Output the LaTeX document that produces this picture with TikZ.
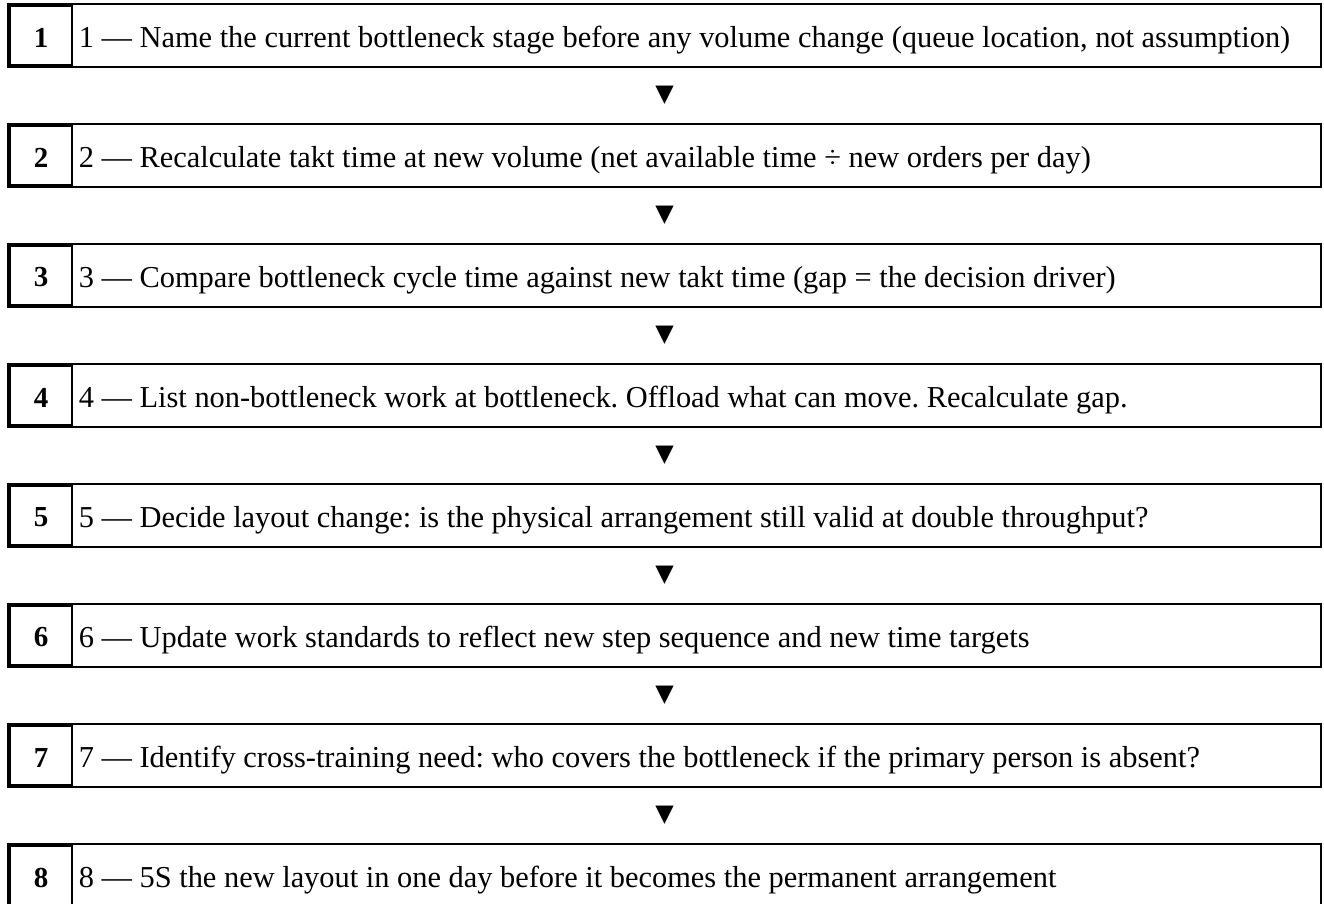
\documentclass[tikz,border=0pt]{standalone}
\usepackage{fontspec}
\setmainfont{Liberation Serif}
\newfontfamily\symfont{DejaVu Sans}
\usetikzlibrary{positioning,calc}
\frenchspacing

\begin{document}
\begin{tikzpicture}[
  x=1pt, y=-1pt,
  stepbox/.style={draw, line width=1.6pt, minimum width=1313pt, minimum height=63pt, inner sep=0pt},
  numbox/.style={draw, line width=1.2pt, minimum width=62pt, minimum height=59pt, inner sep=0pt, font=\fontsize{29}{34}\selectfont\bfseries},
  steptext/.style={inner sep=0pt, yshift=-5pt, font=\fontsize{30.4}{35}\selectfont},
  numtext/.style={inner sep=0pt, font=\fontsize{29}{34}\selectfont\bfseries},
  leftbar/.style={line width=3pt},
  downmark/.style={inner sep=0pt, font=\symfont\fontsize{24}{24}\selectfont}
]
  \useasboundingbox (0,0) rectangle (1324,904);

  % Step boxes
  \node[stepbox] (s1) at (664.5, 35.5) {};
  \node[stepbox] (s2) at (664.5, 155.5) {};
  \node[stepbox] (s3) at (664.5, 275.5) {};
  \node[stepbox] (s4) at (664.5, 395.5) {};
  \node[stepbox] (s5) at (664.5, 515.5) {};
  \node[stepbox] (s6) at (664.5, 635.5) {};
  \node[stepbox] (s7) at (664.5, 755.5) {};
  \node[stepbox] (s8) at (664.5, 875.5) {};

  % Number boxes
  \node[numbox] (n1) at (41, 35.5) {};
  \node[numbox] (n2) at (41, 155.5) {};
  \node[numbox] (n3) at (41, 275.5) {};
  \node[numbox] (n4) at (41, 395.5) {};
  \node[numbox] (n5) at (41, 515.5) {};
  \node[numbox] (n6) at (41, 635.5) {};
  \node[numbox] (n7) at (41, 755.5) {};
  \node[numbox] (n8) at (41, 875.5) {};
  \node[numtext] (m1) at (41, 37.5) {1};
  \node[numtext] (m2) at (41, 157.5) {2};
  \node[numtext] (m3) at (41, 277.5) {3};
  \node[numtext] (m4) at (41, 397.5) {4};
  \node[numtext] (m5) at (41, 517.5) {5};
  \node[numtext] (m6) at (41, 637.5) {6};
  \node[numtext] (m7) at (41, 757.5) {7};
  \node[numtext] (m8) at (41, 877.5) {8};
  \draw[leftbar] (n1.north west) -- (n1.south west);
  \draw[leftbar] (n2.north west) -- (n2.south west);
  \draw[leftbar] (n3.north west) -- (n3.south west);
  \draw[leftbar] (n4.north west) -- (n4.south west);
  \draw[leftbar] (n5.north west) -- (n5.south west);
  \draw[leftbar] (n6.north west) -- (n6.south west);
  \draw[leftbar] (n7.north west) -- (n7.south west);
  \draw[leftbar] (n8.north west) -- (n8.south west);

  % Step texts
  \node[steptext, right=6pt of n1] (t1) {1 — Name the current bottleneck stage before any volume change (queue location, not assumption)};
  \node[steptext, right=6pt of n2] (t2) {2 — Recalculate takt time at new volume (net available time ÷ new orders per day)};
  \node[steptext, right=6pt of n3] (t3) {3 — Compare bottleneck cycle time against new takt time (gap = the decision driver)};
  \node[steptext, right=6pt of n4] (t4) {4 — List non-bottleneck work at bottleneck. Offload what can move. Recalculate gap.};
  \node[steptext, right=6pt of n5] (t5) {5 — Decide layout change: is the physical arrangement still valid at double throughput?};
  \node[steptext, right=6pt of n6] (t6) {6 — Update work standards to reflect new step sequence and new time targets};
  \node[steptext, right=6pt of n7] (t7) {7 — Identify cross-training need: who covers the bottleneck if the primary person is absent?};
  \node[steptext, right=6pt of n8] (t8) {8 — 5S the new layout in one day before it becomes the permanent arrangement};

  % Down markers
  \node[downmark] (d1) at ($(s1.south)!0.5!(s2.north)$) {▼};
  \node[downmark] (d2) at ($(s2.south)!0.5!(s3.north)$) {▼};
  \node[downmark] (d3) at ($(s3.south)!0.5!(s4.north)$) {▼};
  \node[downmark] (d4) at ($(s4.south)!0.5!(s5.north)$) {▼};
  \node[downmark] (d5) at ($(s5.south)!0.5!(s6.north)$) {▼};
  \node[downmark] (d6) at ($(s6.south)!0.5!(s7.north)$) {▼};
  \node[downmark] (d7) at ($(s7.south)!0.5!(s8.north)$) {▼};
\end{tikzpicture}
\end{document}
